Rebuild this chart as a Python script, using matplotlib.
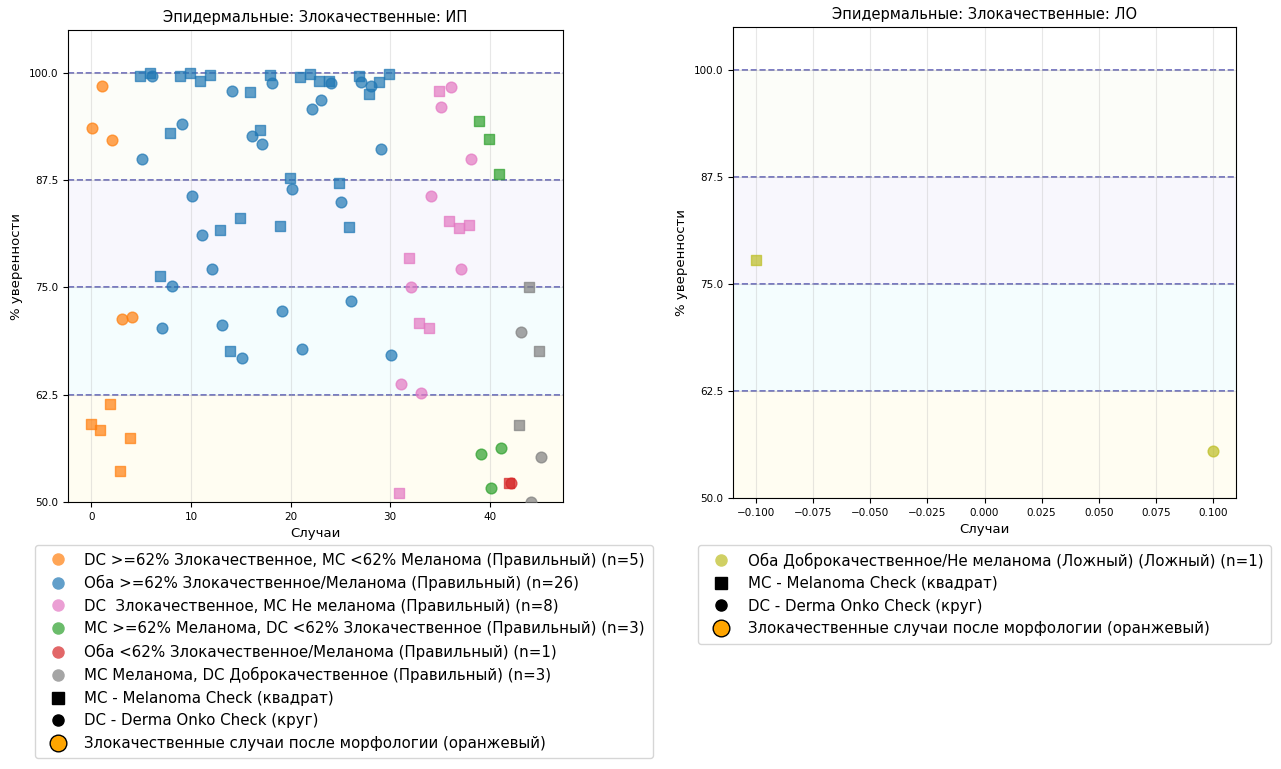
import matplotlib
matplotlib.use("Agg")
import matplotlib.pyplot as plt
from matplotlib.lines import Line2D
import numpy as np

# Confidence (%) per case, MC = Melanoma Check (square), DC = Derma Onko Check (circle)
group_labels = [
    "DC >=62% Злокачественное, MC <62% Меланома (Правильный) (n=5)",
    "Оба >=62% Злокачественное/Меланома (Правильный) (n=26)",
    "DC  Злокачественное, MC Не меланома (Правильный) (n=8)",
    "MC >=62% Меланома, DC <62% Злокачественное (Правильный) (n=3)",
    "Оба <62% Злокачественное/Меланома (Правильный) (n=1)",
    "MC Меланома, DC Доброкачественное (Правильный) (n=3)",
]
group_colors = ["tab:orange", "tab:blue", "tab:pink", "tab:green", "tab:red", "tab:gray"]

orange_mc = [59.1, 58.4, 61.4, 53.6, 57.5]
orange_dc = [93.6, 98.5, 92.2, 71.3, 71.5]

blue_mc = [99.6, 100.0, 76.3, 93.0, 99.6, 100.0, 99.1, 99.7, 81.7, 67.6, 83.1, 97.8, 93.3,
           99.8, 82.2, 87.7, 99.5, 99.9, 99.1, 99.1, 87.2, 82.1, 99.6, 97.6, 98.9, 99.9]
blue_dc = [90.0, 99.6, 70.3, 75.2, 94.1, 85.7, 81.1, 77.1, 70.6, 97.9, 66.8, 92.7, 91.7,
           98.8, 72.2, 86.5, 67.8, 95.8, 96.9, 98.8, 84.9, 73.4, 98.9, 98.5, 91.1, 67.1]

pink_mc = [51.0, 78.4, 70.9, 70.3, 97.9, 82.8, 81.9, 82.3]
pink_dc = [63.8, 75.0, 62.7, 85.7, 96.0, 98.4, 77.1, 90.0]

green_mc = [94.4, 92.3, 88.2]
green_dc = [55.6, 51.6, 56.3]

red_mc = [52.2]
red_dc = [52.2]

gray_mc = [59.0, 75.1, 67.6]
gray_dc = [69.8, 50.0, 55.3]

groups_mc = [orange_mc, blue_mc, pink_mc, green_mc, red_mc, gray_mc]
groups_dc = [orange_dc, blue_dc, pink_dc, green_dc, red_dc, gray_dc]

# LO subset: a single false case
lo_label = "Оба Доброкачественное/Не меланома (Ложный) (Ложный) (n=1)"
lo_color = "tab:olive"
lo_mc = [77.8]
lo_dc = [55.5]

thresholds = [62.5, 75.0, 87.5, 100.0]
bands = [(50, 62.5, "#fffdf2"), (62.5, 75, "#f4fdfe"), (75, 87.5, "#f8f7fd"), (87.5, 100, "#fcfdf9")]

W, H = 1281, 769
fig = plt.figure(figsize=(W / 100, H / 100), dpi=100)
ax1 = fig.add_axes([68 / W, 1 - 502 / H, 495 / W, 472 / H])
ax2 = fig.add_axes([733 / W, 1 - 498 / H, 503 / W, 471 / H])


def style_axes(ax, title):
    for lo, hi, c in bands:
        ax.axhspan(lo, hi, color=c, zorder=0, lw=0)
    for t in thresholds:
        ax.axhline(t, color="darkblue", alpha=0.6, linestyle="--", linewidth=1.2, zorder=1)
    ax.grid(True, alpha=0.3, zorder=0)
    ax.set_ylim(50, 105)
    ax.set_yticks(thresholds[::-1] + [50.0])
    ax.set_title(title, fontsize=10.5)
    ax.set_xlabel("Случаи", fontsize=9.5)
    ax.set_ylabel("% уверенности", fontsize=9.5)
    ax.tick_params(labelsize=7.5)


# Left: ИП
start = 0
for mc, dc, col in zip(groups_mc, groups_dc, group_colors):
    idx = np.arange(start, start + len(mc))
    ax1.scatter(idx - 0.1, mc, marker="s", s=60, color=col, alpha=0.7, zorder=3)
    ax1.scatter(idx + 0.1, dc, marker="o", s=60, color=col, alpha=0.7, zorder=3)
    start += len(mc)
style_axes(ax1, "Эпидермальные: Злокачественные: ИП")

# Right: ЛО
idx = np.arange(len(lo_mc))
ax2.scatter(idx - 0.1, lo_mc, marker="s", s=60, color=lo_color, alpha=0.7, zorder=3)
ax2.scatter(idx + 0.1, lo_dc, marker="o", s=60, color=lo_color, alpha=0.7, zorder=3)
style_axes(ax2, "Эпидермальные: Злокачественные: ЛО")


def extra_handles():
    return [
        Line2D([], [], marker="s", color="black", linestyle="", markersize=8,
               label="MC - Melanoma Check (квадрат)"),
        Line2D([], [], marker="o", color="black", linestyle="", markersize=8,
               label="DC - Derma Onko Check (круг)"),
        Line2D([], [], marker="o", markerfacecolor="orange", markeredgecolor="black",
               linestyle="", markersize=12, label="Злокачественные случаи после морфологии (оранжевый)"),
    ]


h1 = [Line2D([], [], marker="o", color=c, alpha=0.7, markeredgewidth=0, linestyle="",
             markersize=9, label=l)
      for l, c in zip(group_labels, group_colors)] + extra_handles()
h2 = [Line2D([], [], marker="o", color=lo_color, alpha=0.7, markeredgewidth=0, linestyle="",
             markersize=9, label=lo_label)] + extra_handles()

leg_kw = dict(loc="upper left", bbox_transform=fig.transFigure, borderaxespad=0,
              fontsize=10.8, labelspacing=0.5, borderpad=0.5)
fig.legend(handles=h1, bbox_to_anchor=(35 / W, 1 - 545 / H), **leg_kw)
fig.legend(handles=h2, bbox_to_anchor=(698 / W, 1 - 545 / H), **leg_kw)

fig.savefig("out.png", dpi=100)
